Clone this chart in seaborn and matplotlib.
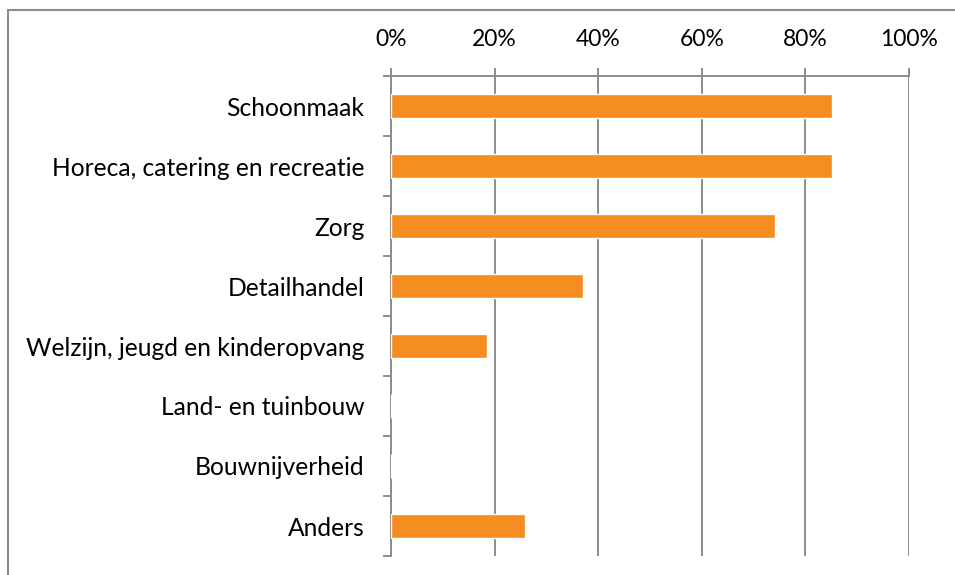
import matplotlib
matplotlib.use('Agg')
import matplotlib.pyplot as plt
import seaborn as sns
import pandas as pd
from matplotlib.patches import Rectangle

# Data (percent)
categories = ['Schoonmaak', 'Horeca, catering en recreatie', 'Zorg', 'Detailhandel',
              'Welzijn, jeugd en kinderopvang', 'Land- en tuinbouw', 'Bouwnijverheid', 'Anders']
shares = [85.2, 85.2, 74.1, 37.0, 18.5, 0.0, 0.0, 25.9]
x_ticks = [0, 20, 40, 60, 80, 100]

df = pd.DataFrame({'Sector': categories, 'Share': shares})

sns.set_style('white')
plt.rcParams['font.family'] = ['Lato', 'DejaVu Sans']

bar_color = '#F68D21'
grid_color = '#8C8C8C'

fig = plt.figure(figsize=(9.55, 5.75), dpi=100)
ax = fig.add_axes([391 / 955, 1 - 556 / 575, 518 / 955, 480 / 575])

sns.barplot(data=df, x='Share', y='Sector', orient='h', color=bar_color,
            saturation=1, width=0.4, ax=ax, zorder=3)

ax.set_xlim(0, 100)
ax.set_ylim(len(categories) - 0.5, -0.5)
ax.set_xlabel('')
ax.set_ylabel('')

# x axis on top, percent labels
ax.xaxis.tick_top()
ax.set_xticks(x_ticks)
ax.set_xticklabels([f'{t}%' for t in x_ticks])
ax.tick_params(axis='x', which='major', direction='out', length=6, width=1.4,
               color=grid_color, pad=13, labelsize=16.5, labelcolor='black')
ax.grid(axis='x', color=grid_color, linewidth=1.4, zorder=0)
ax.grid(axis='y', visible=False)

# category labels, with small ticks between categories
ax.set_yticks(range(len(categories)))
ax.set_yticklabels(categories)
ax.set_yticks([i - 0.5 for i in range(len(categories) + 1)], minor=True)
ax.tick_params(axis='y', which='major', left=True, length=0, pad=19,
               labelsize=17.7, labelcolor='black')
ax.tick_params(axis='y', which='minor', left=True, direction='out', length=6,
               width=1.4, color=grid_color)

for side in ['right', 'bottom']:
    ax.spines[side].set_visible(False)
for side in ['top', 'left']:
    ax.spines[side].set_color(grid_color)
    ax.spines[side].set_linewidth(1.4)

# outer frame, cut off at the right and bottom edges like the source
fig.patches.append(Rectangle((7.5 / 955, -0.1), 1.2, 1.1 - 10 / 575,
                             transform=fig.transFigure, fill=False,
                             edgecolor='#8C8C8C', linewidth=1.5))

fig.savefig('out.png', dpi=100)
